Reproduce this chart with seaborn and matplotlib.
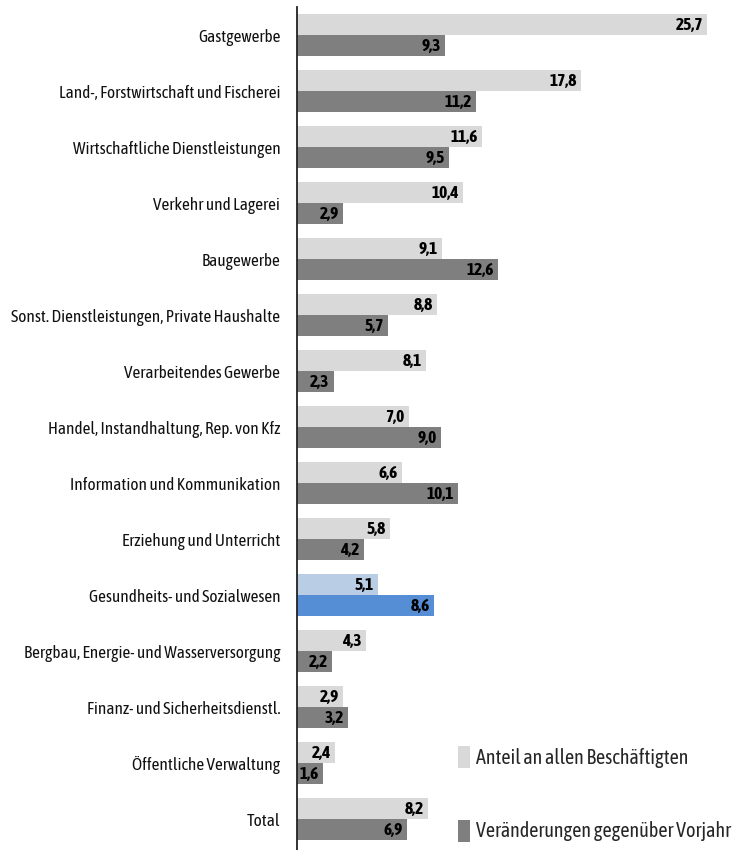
import matplotlib
matplotlib.use("Agg")
import matplotlib.pyplot as plt
import seaborn as sns
import pandas as pd
from matplotlib.patches import Patch

categories = [
    "Gastgewerbe",
    "Land-, Forstwirtschaft und Fischerei",
    "Wirtschaftliche Dienstleistungen",
    "Verkehr und Lagerei",
    "Baugewerbe",
    "Sonst. Dienstleistungen, Private Haushalte",
    "Verarbeitendes Gewerbe",
    "Handel, Instandhaltung, Rep. von Kfz",
    "Information und Kommunikation",
    "Erziehung und Unterricht",
    "Gesundheits- und Sozialwesen",
    "Bergbau, Energie- und Wasserversorgung",
    "Finanz- und Sicherheitsdienstl.",
    "Öffentliche Verwaltung",
    "Total",
]
anteil = [25.7, 17.8, 11.6, 10.4, 9.1, 8.8, 8.1, 7.0, 6.6, 5.8, 5.1, 4.3, 2.9, 2.4, 8.2]
veraenderung = [9.3, 11.2, 9.5, 2.9, 12.6, 5.7, 2.3, 9.0, 10.1, 4.2, 8.6, 2.2, 3.2, 1.6, 6.9]
series_names = ["Anteil an allen Beschäftigten", "Veränderungen gegenüber Vorjahr"]
highlight = "Gesundheits- und Sozialwesen"

series_colors = ["#d9d9d9", "#7f7f7f"]
highlight_colors = ["#b9cde5", "#558ed5"]

sns.set_theme(style="white")
plt.rcParams["font.family"] = ["Asap Condensed", "Barlow Semi Condensed", "DejaVu Sans"]

df = pd.DataFrame({
    "Branche": categories * 2,
    "Wert": anteil + veraenderung,
    "Reihe": [series_names[0]] * len(categories) + [series_names[1]] * len(categories),
})

fig = plt.figure(figsize=(7.36, 8.5), dpi=100)
ax = fig.add_axes([297 / 736, 0.0, 1 - 297 / 736, 1 - 7 / 850])

sns.barplot(data=df, y="Branche", x="Wert", hue="Reihe", order=categories,
            hue_order=series_names, palette=series_colors, width=0.75,
            saturation=1, legend=False, ax=ax, orient="h")

hi = categories.index(highlight)
for s, container in enumerate(ax.containers):
    for i, bar in enumerate(container):
        if i == hi:
            bar.set_facecolor(highlight_colors[s])
        bar.set_edgecolor("none")
    labels = [f"{v:.1f}".replace(".", ",") for v in container.datavalues]
    texts = ax.bar_label(container, labels=labels, padding=-3, fontsize=12.5,
                         fontweight="bold", color="black")
    for t in texts:
        t.set_ha("right")

ax.set_xlim(0, 27.5)
ax.set_ylim(14.55, -0.5)
ax.set_xlabel("")
ax.set_ylabel("")
ax.set_xticks([])
ax.tick_params(axis="y", length=0, pad=12, labelsize=12.4, labelcolor="#111111")
for side in ["top", "right", "bottom"]:
    ax.spines[side].set_visible(False)
ax.spines["left"].set_color("#222222")
ax.spines["left"].set_linewidth(1.3)

handles = [Patch(facecolor=c, edgecolor="none") for c in series_colors]
ax.legend(handles, series_names, loc="lower left", bbox_to_anchor=(0.367, 0.01),
          frameon=False, fontsize=14.5, handlelength=0.6, handleheight=1.3,
          handletextpad=0.3, labelspacing=2.55, borderpad=0, borderaxespad=0)

fig.savefig("out.png", dpi=100)
